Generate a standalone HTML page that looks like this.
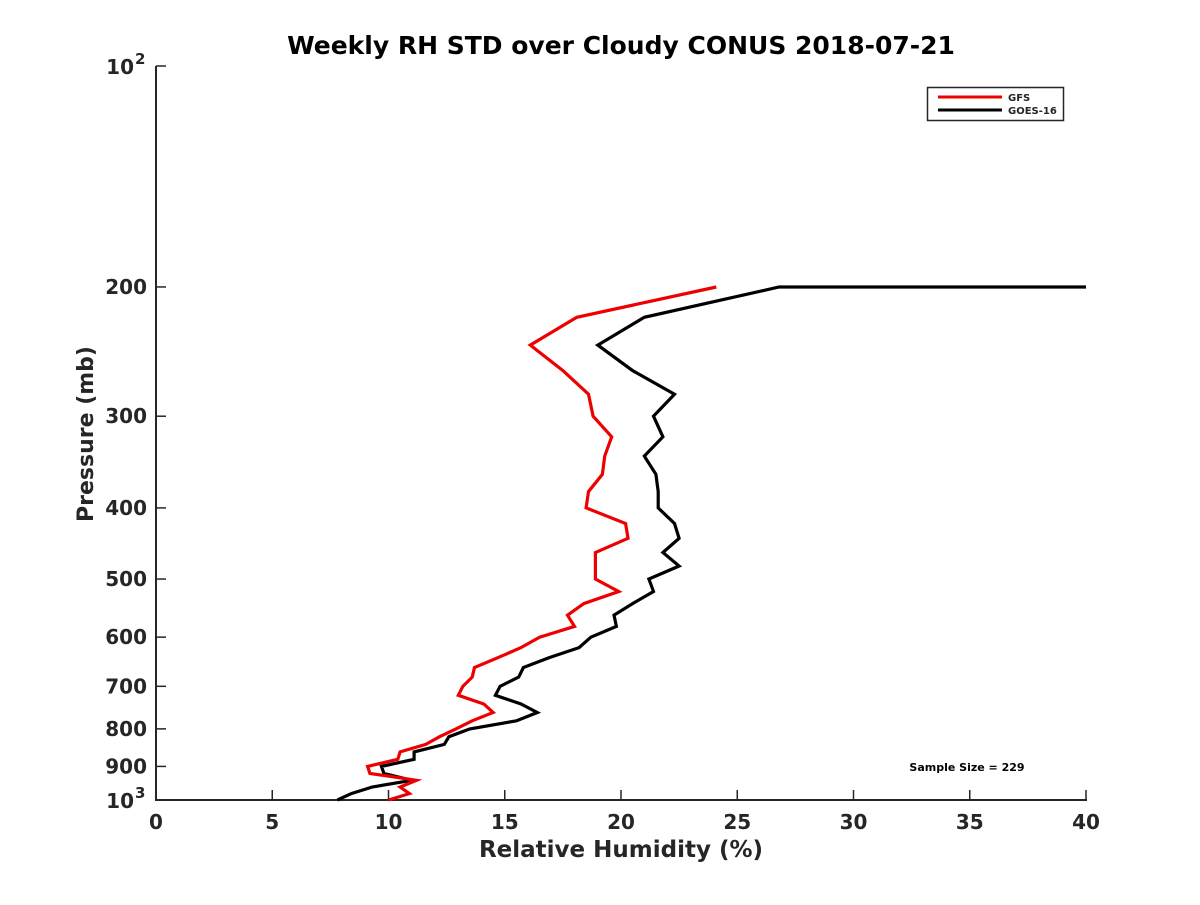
<!DOCTYPE html>
<html><head><meta charset="utf-8"><style>
body{margin:0;background:#fff;}
svg text{font-family:"DejaVu Sans","Liberation Sans",sans-serif;font-weight:bold;fill:#262626;}
</style></head><body>
<svg id="chart" width="1200" height="900" viewBox="0 0 1200 900" xmlns="http://www.w3.org/2000/svg">
<rect width="1200" height="900" fill="#fff"/>
<text x="621" y="54" font-size="25" text-anchor="middle" style="fill:#000">Weekly RH STD over Cloudy CONUS 2018-07-21</text>
<g id="axes"></g>
<g id="series"></g>
<g>
<rect x="927.5" y="87.5" width="136" height="33" fill="#fff" stroke="#262626" stroke-width="1.5"/>
<line x1="938" y1="97" x2="1002" y2="97" stroke="#e00" stroke-width="3"/>
<text x="1008" y="101" font-size="10">GFS</text>
<line x1="938" y1="110" x2="1002" y2="110" stroke="#000" stroke-width="3"/>
<text x="1008" y="114" font-size="10">GOES-16</text>
</g>
<text x="967" y="771" font-size="11" text-anchor="middle" style="fill:#000">Sample Size = 229</text>
<text x="621" y="857" font-size="23" text-anchor="middle">Relative Humidity (%)</text>
<text transform="translate(93,434) rotate(-90)" font-size="22" text-anchor="middle">Pressure (mb)</text>
</svg>
<script>
const levels=[200,220,240,260,280,300,320,340,360,380,400,420,440,460,480,500,520,540,560,580,600,620,640,660,680,700,720,740,760,780,800,820,840,860,880,900,920,940,960,980,1000];
const gfs=[24.1,18.1,16.1,17.5,18.6,18.8,19.6,19.3,19.2,18.6,18.5,20.2,20.3,18.9,18.9,18.9,19.9,18.4,17.7,18.0,16.5,15.7,14.7,13.7,13.6,13.2,13.0,14.1,14.5,13.6,12.9,12.2,11.6,10.5,10.4,9.1,9.2,11.2,10.5,10.9,10.0];
const goes=[26.8,21.0,19.0,20.5,22.3,21.4,21.8,21.0,21.5,21.6,21.6,22.3,22.5,21.8,22.5,21.2,21.4,20.5,19.7,19.8,18.7,18.2,16.9,15.8,15.6,14.8,14.6,15.7,16.4,15.5,13.5,12.6,12.4,11.1,11.1,9.7,9.8,11.0,9.3,8.4,7.8];
const goesTopValue=40;
const xTicks=[0,5,10,15,20,25,30,35,40];
const yTicks=[200,300,400,500,600,700,800,900];
const NS='http://www.w3.org/2000/svg';
const X=v=>156+v*(1086-156)/40;
const Y=p=>66+Math.log10(p/100)*734;
function mk(tag,attrs,parent){const e=document.createElementNS(NS,tag);for(const k in attrs)e.setAttribute(k,attrs[k]);parent.appendChild(e);return e;}
const ax=document.getElementById('axes');
const yAxis=mk('line',{x1:156,y1:66,x2:156,y2:800,stroke:'#262626','stroke-width':2},ax);


const xAxis=mk('line',{x1:155,y1:800,x2:1087,y2:800,stroke:'#262626','stroke-width':2},ax);


xTicks.forEach(v=>{
 mk('line',{x1:X(v),y1:800,x2:X(v),y2:790,stroke:'#262626','stroke-width':1.5},ax);
 const t=mk('text',{x:X(v),y:829,'font-size':20,'text-anchor':'middle'},ax);t.textContent=v;
 
 
});
[100,1000].concat(yTicks).forEach(p=>{
 mk('line',{x1:156,y1:Y(p),x2:166,y2:Y(p),stroke:'#262626','stroke-width':1.5},ax);
});
yTicks.forEach(p=>{
 const t=mk('text',{x:147,y:Y(p)+7,'font-size':20,'text-anchor':'end'},ax);t.textContent=p;
 
 
});
[[100,'2'],[1000,'3']].forEach(([p,e])=>{
 const t=mk('text',{x:134,y:Y(p)+8,'font-size':20,'text-anchor':'end'},ax);t.textContent='10';
 
 
 const s=mk('text',{x:135,y:Y(p)-2,'font-size':15},ax);s.textContent=e;
});
const sg=document.getElementById('series');
function line(vals,color,name,extra){
 let pts=vals.map((v,i)=>X(v).toFixed(1)+','+Y(levels[i]).toFixed(1));
 if(extra!==undefined)pts.unshift(X(extra).toFixed(1)+','+Y(levels[0]).toFixed(1));
 const pl=mk('polyline',{points:pts.join(' '),fill:'none',stroke:color,'stroke-width':3.2,'stroke-linejoin':'miter'},sg);
 
 
}
line(goes,'#000','goes16-line',goesTopValue);
line(gfs,'#e00','gfs-line');
</script>
</body></html>
